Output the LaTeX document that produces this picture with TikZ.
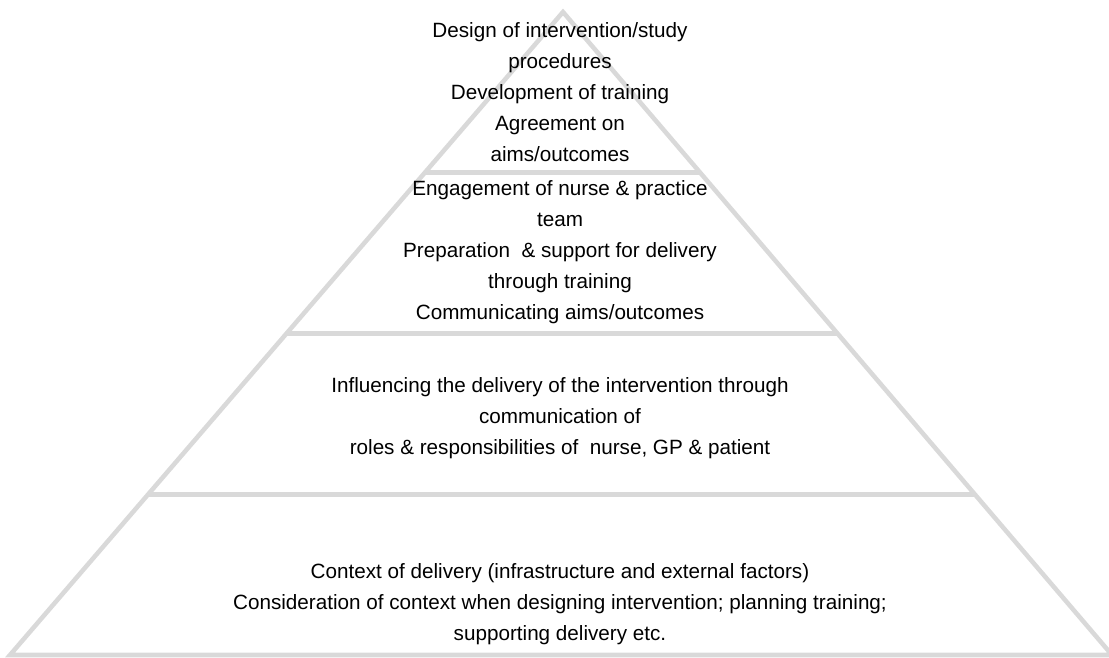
\documentclass[tikz,border=0pt]{standalone}
\usepackage{fontspec}
\setmainfont{Liberation Sans}
\usepackage{tikz}
\usepackage{color}

\begin{document}
\begin{tikzpicture}[x=0.75pt,y=0.75pt,yscale=-1,xscale=1,
  tier/.style={draw={rgb, 255:red, 217; green, 217; blue, 217}, line width=3.4pt},
  tiertext/.style={anchor=center, inner sep=0.75pt, align=center,
    font=\fontsize{15.5}{23.2}\selectfont}]
\useasboundingbox (0,0) rectangle (1109,657);

%Shape: Triangle [id:pyramid]
\draw [tier] (10,655) -- (563,12) -- (1112,655) -- cycle ;
%Straight Lines [id:divider1]
\draw [tier] (424.75,172.75) -- (700.25,172.75) ;
%Straight Lines [id:divider2]
\draw [tier] (286.5,333.5) -- (837.5,333.5) ;
%Straight Lines [id:divider3]
\draw [tier] (148.25,494.25) -- (974.75,494.25) ;

% Text Node
\node [tiertext] (design) at (560,92) {Design of intervention/study\\procedures\\Development of training\\Agreement on\\aims/outcomes};
% Text Node
\node [tiertext] (engage) at (560,252) {Engagement of nurse \& practice\\team\\Preparation\ \ \& support for delivery\\through training\\Communicating aims/outcomes};
% Text Node
\node [tiertext] (influence) at (560,418) {Influencing the delivery of the intervention through\\communication of\\roles \& responsibilities of\ \ nurse, GP \& patient};
% Text Node
\node [tiertext] (context) at (560,604) {Context of delivery (infrastructure and external factors)\\Consideration of context when designing intervention; planning training;\\supporting delivery etc.};

\end{tikzpicture}
\end{document}
